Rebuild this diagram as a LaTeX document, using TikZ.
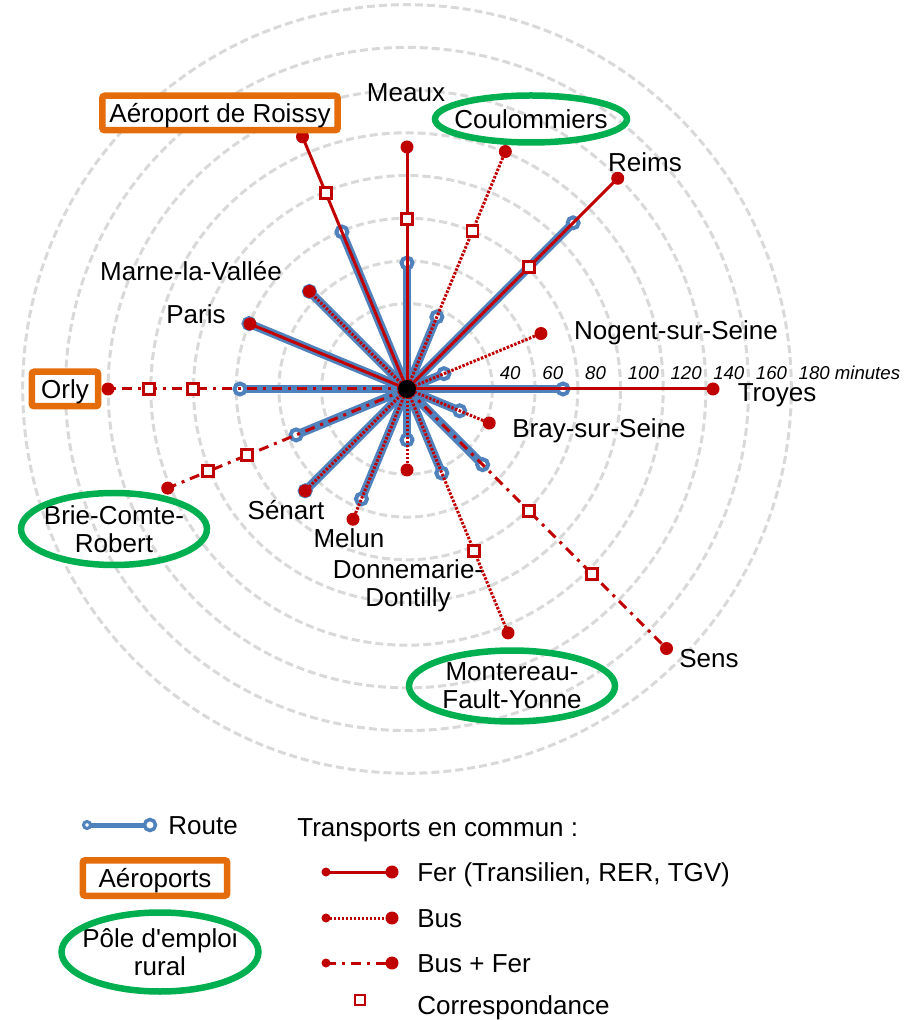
\documentclass[tikz,border=0pt]{standalone}
\usepackage{fontspec}
\setmainfont{Liberation Sans}
\definecolor{routeblue}{RGB}{79,129,189}
\definecolor{ferred}{RGB}{192,0,0}
\definecolor{ringgray}{RGB}{217,217,217}
\definecolor{airorange}{RGB}{228,108,10}
\definecolor{polegreen}{RGB}{0,176,80}

\begin{document}
\begin{tikzpicture}[x=0.02cm, y=0.02cm,
        ring/.style={draw=ringgray, line width=0.06cm, dash pattern=on 0.16cm off 0.08cm},
        route/.style={draw=routeblue, line width=0.17cm},
        fer/.style={draw=ferred, line width=0.06cm},
        bus/.style={draw=ferred, line width=0.06cm, dash pattern=on 0.05cm off 0.03cm},
        busfer/.style={draw=ferred, line width=0.06cm, dash pattern=on 0.2cm off 0.12cm on 0.06cm off 0.12cm},
        town/.style={font=\fontsize{14.8}{15.9}\selectfont, inner sep=0pt, text height=0.37cm, text depth=0pt},
        twoline/.style={font=\fontsize{14.8}{15.9}\selectfont, inner sep=0pt, align=center},
        airport/.style={town, draw=airorange, fill=white, line width=0.13cm, rounded corners=0.05cm},
        pole/.style={draw=polegreen, line width=0.13cm},
        tick/.style={font=\fontsize{10.6}{12}\selectfont\itshape, inner sep=0pt, anchor=west, text height=0.26cm, text depth=0pt}]
            % One ring = 20 minutes
            \def\U{42.7}
            \path (0, 0) coordinate (O);
            \useasboundingbox (-407, -631) rectangle (498, 389);

            % Rings
            \foreach \k/\t in {2/40, 3/60, 4/80, 5/100, 6/120, 7/140, 8/160, 9/180 minutes} {
                \draw[ring] (O) circle (\k*\U);
                \node[tick] (M\k) at ({\k*\U+7}, 16) {\t};
            }

            % Route ends
            \path (0:156) coordinate (TroyesR);
            \path (22.5:40) coordinate (NogentR);
            \path (45:235) coordinate (ReimsR);
            \path (67.5:78) coordinate (CoulR);
            \path (90:126) coordinate (MeauxR);
            \path (112.5:170) coordinate (RoissyR);
            \path (135:138) coordinate (MarneR);
            \path (157.5:171) coordinate (ParisR);
            \path (180:167) coordinate (OrlyR);
            \path (202.5:120) coordinate (BrieR);
            \path (225:144) coordinate (SenartR);
            \path (247.5:119) coordinate (MelunR);
            \path (270:51) coordinate (DonneR);
            \path (292.5:91) coordinate (MontR);
            \path (315:107) coordinate (SensR);
            \path (337.5:57) coordinate (BrayR);

            % Public transport ends
            \path (0:306) coordinate (TroyesT);
            \path (22.5:145) coordinate (NogentT);
            \path (45:298) coordinate (ReimsT);
            \path (67.5:257) coordinate (CoulT);
            \path (90:242) coordinate (MeauxT);
            \path (112.5:273) coordinate (RoissyT);
            \path (135:138) coordinate (MarneT);
            \path (157.5:170) coordinate (ParisT);
            \path (180:299) coordinate (OrlyT);
            \path (202.5:259) coordinate (BrieT);
            \path (225:144) coordinate (SenartT);
            \path (247.5:141) coordinate (MelunT);
            \path (270:81) coordinate (DonneT);
            \path (292.5:264) coordinate (MontT);
            \path (315:367) coordinate (SensT);
            \path (337.5:89) coordinate (BrayT);

            % Changes
            \path (45:173) coordinate (ReimsC);
            \path (67.5:171) coordinate (CoulC);
            \path (90:170) coordinate (MeauxC);
            \path (112.5:212) coordinate (RoissyC);
            \path (180:214) coordinate (OrlyC1);
            \path (180:258) coordinate (OrlyC2);
            \path (202.5:173) coordinate (BrieC1);
            \path (202.5:215) coordinate (BrieC2);
            \path (292.5:175) coordinate (MontC);
            \path (315:173) coordinate (SensC1);
            \path (315:262) coordinate (SensC2);

            % Route
            \foreach \c in {TroyesR, NogentR, ReimsR, CoulR, MeauxR, RoissyR, MarneR, ParisR,
                            OrlyR, BrieR, SenartR, MelunR, DonneR, MontR, SensR, BrayR} {
                \draw[route] (O) -- (\c);
                \filldraw[draw=routeblue, fill=white, line width=0.08cm] (\c) circle (5.5);
            }

            % Public transport
            \draw[fer] (O) -- (TroyesT);
            \draw[bus] (O) -- (NogentT);
            \draw[fer] (O) -- (ReimsT);
            \draw[bus] (O) -- (CoulT);
            \draw[fer] (O) -- (MeauxT);
            \draw[fer] (O) -- (RoissyT);
            \draw[bus] (O) -- (MarneT);
            \draw[fer] (O) -- (ParisT);
            \draw[busfer] (O) -- (OrlyT);
            \draw[busfer] (O) -- (BrieT);
            \draw[bus] (O) -- (SenartT);
            \draw[bus] (O) -- (MelunT);
            \draw[bus] (O) -- (DonneT);
            \draw[bus] (O) -- (MontT);
            \draw[busfer] (O) -- (SensT);
            \draw[bus] (O) -- (BrayT);
            \foreach \c in {TroyesT, NogentT, ReimsT, CoulT, MeauxT, RoissyT, MarneT, ParisT,
                            OrlyT, BrieT, SenartT, MelunT, DonneT, MontT, SensT, BrayT}
                \fill[ferred] (\c) circle (6.5);
            \foreach \c in {ReimsC, CoulC, MeauxC, RoissyC, OrlyC1, OrlyC2, BrieC1, BrieC2, MontC, SensC1, SensC2}
                \filldraw[draw=ferred, fill=white, line width=0.055cm] (\c) ++(-5.5, -5.5) rectangle ++(11, 11);

            % Centre
            \fill (O) circle (9);

            % Towns
            \node[town] (Meaux) at (-1, 297) {Meaux};
            \node[town] (Reims) at (238, 227) {Reims};
            \node[town] (Nogent) at (269, 59) {Nogent-sur-Seine};
            \node[town] (Troyes) at (370, -3) {Troyes};
            \node[town] (Bray) at (192, -39) {Bray-sur-Seine};
            \node[town] (Sens) at (302, -269) {Sens};
            \node[twoline] (Donne) at (1, -197) {Donnemarie-\\Dontilly};
            \node[town] (Melun) at (-58, -149) {Melun};
            \node[town] (Senart) at (-121, -121) {Sénart};
            \node[town] (Paris) at (-211, 75) {Paris};
            \node[town] (Marne) at (-216, 118) {Marne-la-Vallée};
            \node[airport, minimum width=1.33cm, minimum height=0.69cm] (Orly) at (-342, 0) {Orly};
            \node[airport, minimum width=4.71cm, minimum height=0.69cm] (Roissy) at (-187, 276) {Aéroport de Roissy};
            \node[town] (Coul) at (124, 270) {Coulommiers};
            \draw[pole] (Coul) ellipse [x radius=96, y radius=23.5];
            \node[twoline] (Brie) at (-293, -140) {Brie-Comte-\\Robert};
            \draw[pole] (Brie) ellipse [x radius=93, y radius=36];
            \node[twoline] (Mont) at (105, -297) {Montereau-\\Fault-Yonne};
            \draw[pole] (Mont) ellipse [x radius=103, y radius=35.5];

            % Legend
            \path (-320, -436) coordinate (LR1);
            \path (-257, -436) coordinate (LR2);
            \draw[route, line width=0.1cm] (LR1) -- (LR2);
            \filldraw[draw=routeblue, fill=white, line width=0.06cm] (LR1) circle (3.5);
            \filldraw[draw=routeblue, fill=white, line width=0.07cm] (LR2) circle (5.5);
            \node[town, anchor=west] (LRoute) at (-239, -436) {Route};
            \node[town, anchor=west] (LTC) at (-110, -438) {Transports en commun :};
            \node[airport, minimum width=2.89cm, minimum height=0.71cm] (LAir) at (-252, -489) {Aéroports};
            \node[twoline] (LPole) at (-247, -563) {Pôle d\textquotesingle emploi\\rural};
            \draw[pole] (LPole) ellipse [x radius=98.5, y radius=39.5];

            \path (-81, -483) coordinate (LF1);
            \path (-15, -483) coordinate (LF2);
            \path (-81, -529) coordinate (LB1);
            \path (-15, -529) coordinate (LB2);
            \path (-81, -574) coordinate (LBF1);
            \path (-15, -574) coordinate (LBF2);
            \path (-47, -611) coordinate (LC);
            \draw[fer] (LF1) -- (LF2);
            \draw[bus] (LB1) -- (LB2);
            \draw[busfer] (LBF1) -- (LBF2);
            \foreach \c in {LF1, LB1, LBF1} \fill[ferred] (\c) circle (4.5);
            \foreach \c in {LF2, LB2, LBF2} \fill[ferred] (\c) circle (6.5);
            \filldraw[draw=ferred, fill=white, line width=0.055cm] (LC) ++(-5, -5) rectangle ++(10, 10);
            \node[town, anchor=west] (LFer) at (10, -483) {Fer (Transilien, RER, TGV)};
            \node[town, anchor=west] (LBus) at (10, -529) {Bus};
            \node[town, anchor=west] (LBusFer) at (10, -574) {Bus + Fer};
            \node[town, anchor=west] (LCorr) at (10, -616) {Correspondance};
\end{tikzpicture}
\end{document}
